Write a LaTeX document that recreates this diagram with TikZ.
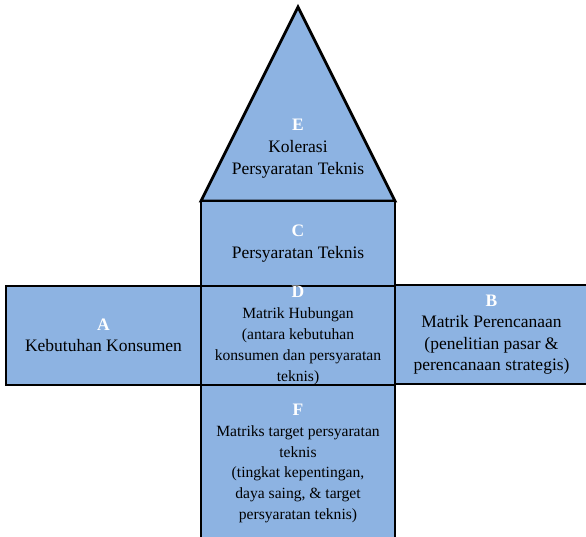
\documentclass[tikz,border=0pt]{standalone}
\usepackage{fontspec}
\setmainfont{Liberation Serif}
\usepackage{tikz}
\usetikzlibrary{positioning}
\definecolor{kotak}{RGB}{141,179,226}
\newcommand{\hrf}[1]{\textcolor{white}{\textbf{#1}}}

\begin{document}
\begin{tikzpicture}[x=1pt, y=-1pt, line width=2.8pt,
    blok/.style={draw, fill=kotak, align=center, inner sep=0pt, outer sep=0pt,
      minimum width=194pt, font=\fontsize{17.5}{21.5}\selectfont},
    kecil/.style={font=\fontsize{15.6}{20.8}\selectfont}]
    \useasboundingbox (0,0) rectangle (586,537);
    \clip (0,0) rectangle (586,537);
    % atap
    \coordinate (puncak) at (298,7);
    \draw[fill=kotak] (201,201) -- (puncak) -- (395,201) -- cycle;
    \node[align=center, font=\fontsize{17.5}{22}\selectfont] (E) at (298,149) {
      \hrf{E}\\Kolerasi\\Persyaratan Teknis
    };
    \node[blok, minimum height=85pt] (C) at (298,243.5) {
      \hrf{C}\\Persyaratan Teknis
    };
    \node[blok, minimum height=99pt, minimum width=195pt] (A) at (103.5,335.5) {
      \hrf{A}\\Kebutuhan Konsumen
    };
    \node[blok, minimum height=99pt, minimum width=193pt] (B) at (491.5,334.5) {
      \hrf{B}\\Matrik Perencanaan\\(penelitian pasar \&\\perencanaan strategis)
    };
    \node[blok, kecil, minimum height=99pt] (D) at (298,335.5) {
      {\fontsize{17.5}{21}\selectfont\hrf{D}}\\Matrik Hubungan\\(antara kebutuhan\\konsumen dan persyaratan\\teknis)
    };
    \draw[fill=kotak] (D.south west) rectangle (395,545);
    \node[align=center, kecil] (F) at (298,463.5) {
      {\fontsize{17.5}{21}\selectfont\hrf{F}}\\Matriks target persyaratan\\teknis\\(tingkat kepentingan,\\daya saing, \& target\\persyaratan teknis)
    };
\end{tikzpicture}
\end{document}
